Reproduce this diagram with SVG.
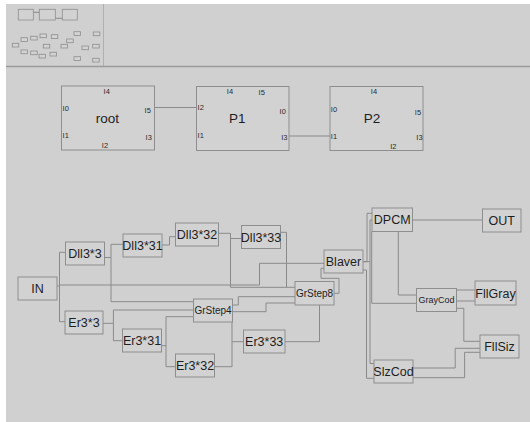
<svg xmlns="http://www.w3.org/2000/svg" width="530" height="422" viewBox="0 0 530 422">
<style>
.bx{fill:#d2d2d2;stroke:#8e8e8e;stroke-width:1}
.mb{fill:#d2d2d2;stroke:#8e8e8e;stroke-width:0.8}
.t{font-family:"Liberation Sans",Arial,sans-serif;font-size:12.5px;fill:#1e1e1e;text-anchor:middle}
.s{font-size:10px}
.g{font-size:9px}
.p{font-family:"Liberation Sans",Arial,sans-serif;font-size:7.5px;fill:#2a2a2a;text-anchor:middle}
.lb{font-family:"Liberation Sans",Arial,sans-serif;font-size:13.5px;fill:#1e1e1e;text-anchor:middle}
.c{fill:none;stroke:#8a8a8a;stroke-width:1}
</style>
<rect x="0" y="0" width="530" height="422" fill="#ffffff"/>
<rect x="6" y="4" width="524" height="418" fill="#d0d0d0"/>
<line x1="6" y1="66.5" x2="530" y2="66.5" stroke="#9a9a9a" stroke-width="1.5"/>
<line x1="103.5" y1="4" x2="103.5" y2="66" stroke="#b0b0b0" stroke-width="1"/>

<g id="thumbnail">
<rect class="mb" x="18.3" y="9.3" width="15" height="10.7"/>
<rect class="mb" x="39.3" y="9.3" width="16" height="10.7"/>
<rect class="mb" x="62.3" y="9.3" width="15" height="10.7"/>
<path class="c" d="M33.3,12.3 H39.3 M55.3,18.3 H62.3"/>
<rect class="mb" x="12.3" y="43.3" width="6.5" height="3.7"/>
<rect class="mb" x="21" y="37.7" width="6.5" height="3.7"/>
<rect class="mb" x="30.7" y="36.3" width="6.5" height="3.7"/>
<rect class="mb" x="40" y="34" width="6.5" height="3.7"/>
<rect class="mb" x="51.3" y="34.7" width="6.5" height="3.7"/>
<rect class="mb" x="74" y="31.7" width="6.5" height="3.7"/>
<rect class="mb" x="93.3" y="32" width="6.5" height="3.7"/>
<rect class="mb" x="66.7" y="39" width="6.5" height="3.7"/>
<rect class="mb" x="43.3" y="44.3" width="6.5" height="3.7"/>
<rect class="mb" x="61" y="44.3" width="6.5" height="3.7"/>
<rect class="mb" x="82" y="46" width="6.5" height="3.7"/>
<rect class="mb" x="92.7" y="44.3" width="6.5" height="3.7"/>
<rect class="mb" x="21" y="50" width="6.5" height="3.7"/>
<rect class="mb" x="30.7" y="51" width="6.5" height="3.7"/>
<rect class="mb" x="39" y="54.3" width="6.5" height="3.7"/>
<rect class="mb" x="50" y="52.3" width="6.5" height="3.7"/>
<rect class="mb" x="74" y="56.7" width="6.5" height="3.7"/>
<rect class="mb" x="92.7" y="58.3" width="6.5" height="3.7"/>
</g>

<g id="connectors">
<path class="c" d="M154.5,107.5 H196.5"/>
<path class="c" d="M289,136 H330"/>
<path class="c" d="M57,286 H59.5"/>
<path class="c" d="M65.5,252.3 H59.5 V321.7 H65"/>
<path class="c" d="M59.5,285 H259.5 V263.3 H324"/>
<path class="c" d="M104.5,257.5 H111 V244.3 H123"/>
<path class="c" d="M111,257.5 V301.7 H193.5"/>
<path class="c" d="M162,245 H169.5 V236.7 H175.5"/>
<path class="c" d="M218.5,233.3 H230.5 V287.3 H295"/>
<path class="c" d="M230.5,238.5 H241.5"/>
<path class="c" d="M280.5,232.3 H286.5 V287.3"/>
<path class="c" d="M103,323.3 H113.4 V340.7 H122.5"/>
<path class="c" d="M113.4,323.3 V310 H193.5"/>
<path class="c" d="M161.5,345.7 H166 V366.7 H175.5"/>
<path class="c" d="M166,345.7 V316.7 H193.5"/>
<path class="c" d="M214.5,366.7 H232 V341.7 H243.5"/>
<path class="c" d="M232.5,305 H238.3 V296.7 H295"/>
<path class="c" d="M232.5,311.7 H266 V303 H295"/>
<path class="c" d="M232,341.7 V311.7"/>
<path class="c" d="M285,341.7 H319.5 V305"/>
<path class="c" d="M334,293.3 H339 V278.3 H321 V268.3 H324"/>
<path class="c" d="M363,261.7 H367 V213.3 H372"/>
<path class="c" d="M363,261.7 H370 V363.5 H374"/>
<path class="c" d="M370,261.7 V220 H372"/>
<path class="c" d="M363,270 H366.5 V378.3 H374"/>
<path class="c" d="M371.7,231.5 V303.3 H416.5"/>
<path class="c" d="M398.3,231.5 V295 H416.5"/>
<path class="c" d="M412.5,220 H482.5"/>
<path class="c" d="M456.5,290 H475 M456.5,301 H475"/>
<path class="c" d="M456.5,308.3 H463.8 V341.3 H480"/>
<path class="c" d="M413,368 H455.2 V348.3 H480"/>
<path class="c" d="M413,377.7 H464.6 V352.3 H480"/>
</g>

<g id="n-root">
<rect class="bx" x="61.5" y="86" width="93" height="64"/>
<text class="lb" x="107.3" y="123">root</text>
<text class="p" x="106.7" y="94.2">I4</text>
<text class="p" x="65.7" y="110.8">I0</text>
<text class="p" x="147.7" y="112.5">I5</text>
<text class="p" x="65.7" y="138.2">I1</text>
<text class="p" x="148.7" y="139.5">I3</text>
<text class="p" x="105" y="148.2">I2</text>
</g>
<g id="n-P1">
<rect class="bx" x="196.5" y="86.5" width="92.5" height="64"/>
<text class="lb" x="237.3" y="123">P1</text>
<text class="p" x="230" y="94.2">I4</text>
<text class="p" x="261.7" y="95.2">I5</text>
<text class="p" x="200.7" y="110.2">I2</text>
<text class="p" x="282.7" y="113.5">I0</text>
<text class="p" x="200.7" y="138.2">I1</text>
<text class="p" x="284.3" y="139.5">I3</text>
</g>
<g id="n-P2">
<rect class="bx" x="330" y="86.5" width="93" height="64"/>
<text class="lb" x="372" y="123">P2</text>
<text class="p" x="374" y="93.5">I4</text>
<text class="p" x="334" y="111.5">I0</text>
<text class="p" x="418" y="115">I5</text>
<text class="p" x="334" y="138.5">I1</text>
<text class="p" x="419.5" y="139.8">I3</text>
<text class="p" x="393.3" y="148.5">I2</text>
</g>

<g id="n-IN"><rect class="bx" x="18" y="277" width="39" height="23"/><text class="t" x="37.5" y="293">IN</text></g>
<g id="n-Dll3x3"><rect class="bx" x="65.5" y="242" width="39" height="23"/><text class="t" x="85" y="258">Dll3*3</text></g>
<g id="n-Er3x3"><rect class="bx" x="65" y="311" width="38" height="23"/><text class="t" x="84" y="327">Er3*3</text></g>
<g id="n-Dll3x31"><rect class="bx" x="123" y="234" width="39" height="23"/><text class="t" x="142.5" y="250">Dll3*31</text></g>
<g id="n-Dll3x32"><rect class="bx" x="175.5" y="223" width="43" height="23"/><text class="t" x="197" y="239">Dll3*32</text></g>
<g id="n-Dll3x33"><rect class="bx" x="241.5" y="225.5" width="39" height="23"/><text class="t" x="261" y="241.5">Dll3*33</text></g>
<g id="n-Er3x31"><rect class="bx" x="122.5" y="329" width="39" height="23"/><text class="t" x="142" y="345">Er3*31</text></g>
<g id="n-Er3x32"><rect class="bx" x="175.5" y="354" width="39" height="23"/><text class="t" x="195" y="370">Er3*32</text></g>
<g id="n-Er3x33"><rect class="bx" x="243.5" y="330" width="41.5" height="23"/><text class="t" x="264.2" y="346">Er3*33</text></g>
<g id="n-GrStep4"><rect class="bx" x="193.5" y="299" width="39" height="23"/><text class="t s" x="213" y="314">GrStep4</text></g>
<g id="n-GrStep8"><rect class="bx" x="295" y="281.5" width="39" height="23.5"/><text class="t s" x="314.5" y="296.5">GrStep8</text></g>
<g id="n-Blaver"><rect class="bx" x="324" y="250" width="39" height="23"/><text class="t" x="343.5" y="266">Blaver</text></g>
<g id="n-DPCM"><rect class="bx" x="372" y="208" width="40.5" height="23.5"/><text class="t" x="392.2" y="224.3">DPCM</text></g>
<g id="n-OUT"><rect class="bx" x="482.5" y="209" width="38.5" height="23"/><text class="t" x="501.7" y="225">OUT</text></g>
<g id="n-GrayCod"><rect class="bx" x="416.5" y="288.5" width="40" height="23"/><text class="t g" x="436.5" y="303">GrayCod</text></g>
<g id="n-FllGray"><rect class="bx" x="475" y="281" width="41" height="24"/><text class="t" x="495.5" y="297.5">FllGray</text></g>
<g id="n-FllSiz"><rect class="bx" x="480" y="335" width="39" height="23"/><text class="t" x="499.5" y="351">FllSiz</text></g>
<g id="n-SlzCod"><rect class="bx" x="374" y="360" width="39" height="23"/><text class="t" x="393.5" y="376">SlzCod</text></g>
</svg>
